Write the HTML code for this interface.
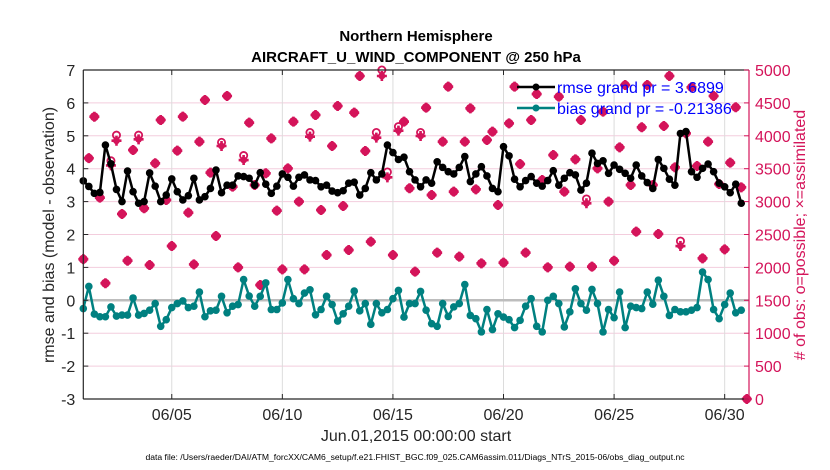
<!DOCTYPE html>
<html><head><meta charset="utf-8">
<style>
html,body{margin:0;padding:0;background:#fff;}
svg{display:block;font-family:"Liberation Sans",Arial,sans-serif;}
</style></head>
<body>
<svg id="chart" width="830" height="470" viewBox="0 0 830 470" xmlns="http://www.w3.org/2000/svg">
  <rect x="0" y="0" width="830" height="470" fill="#fff"/>
  <text x="416" y="41" text-anchor="middle" font-size="15" font-weight="bold" fill="#000">Northern Hemisphere</text>
  <text x="416" y="62" text-anchor="middle" font-size="15" font-weight="bold" fill="#000">AIRCRAFT_U_WIND_COMPONENT @ 250 hPa</text>
  <g id="grid"></g>
  <g id="marks"></g>
  <g id="axes"></g>
  <g id="legend">
    <line x1="517" y1="87" x2="555" y2="87" stroke="#000" stroke-width="2.5"/>
    <circle cx="536" cy="87" r="3.5" fill="#000"/>
    <text x="557" y="93" font-size="16" fill="#0000ff">rmse grand pr = 3.6899</text>
    <line x1="517" y1="108" x2="555" y2="108" stroke="#008080" stroke-width="2.5"/>
    <circle cx="536" cy="108" r="3.5" fill="#008080"/>
    <text x="557" y="114" font-size="16" fill="#0000ff">bias grand pr = -0.21386</text>
  </g>
  <text transform="translate(54,235) rotate(-90)" text-anchor="middle" font-size="16" fill="#262626">rmse and bias (model - observation)</text>
  <text transform="translate(805,235) rotate(-90)" text-anchor="middle" font-size="16" fill="#d4145a"># of obs: o=possible; ×=assimilated</text>
  <text x="416" y="441" text-anchor="middle" font-size="16" fill="#262626">Jun.01,2015 00:00:00 start</text>
  <text x="415" y="460" text-anchor="middle" font-size="8.6" fill="#000">data file: /Users/raeder/DAI/ATM_forcXX/CAM6_setup/f.e21.FHIST_BGC.f09_025.CAM6assim.011/Diags_NTrS_2015-06/obs_diag_output.nc</text>
</svg>
<script>
const leftTicks = [-3,-2,-1,0,1,2,3,4,5,6,7];
const rightTicks = [0,500,1000,1500,2000,2500,3000,3500,4000,4500,5000];
const dateTickDays = [4,9,14,19,24,29];
const dateTickLabels = ["06/05","06/10","06/15","06/20","06/25","06/30"];
const rmse = [3.63,3.46,3.25,3.28,4.72,4.15,3.37,3.0,3.93,3.3,2.95,3.0,3.87,3.47,3.0,3.2,3.69,3.3,3.05,3.18,
3.71,3.05,3.15,3.4,3.96,3.27,3.5,3.5,3.78,3.76,3.71,3.5,3.88,3.53,3.25,3.47,3.84,3.74,3.47,3.74,
3.81,3.66,3.64,3.45,3.5,3.32,3.27,3.33,3.56,3.59,3.2,3.4,3.88,3.66,3.84,4.72,4.49,4.28,4.35,3.91,
3.66,3.45,3.66,3.56,4.21,4.04,3.91,3.84,4.04,4.37,3.61,3.84,4.06,3.78,3.4,3.3,4.67,4.39,3.68,3.45,
3.64,3.76,3.56,3.47,3.64,3.94,3.5,3.71,3.88,3.81,3.35,3.56,4.47,4.16,4.24,3.86,4.11,3.98,3.86,3.71,
4.11,3.78,3.58,3.4,4.28,4.01,3.68,3.5,5.07,5.13,3.91,3.74,4.01,4.14,3.91,3.56,3.45,3.27,3.53,2.95];
const bias = [-0.25,0.42,-0.42,-0.5,-0.5,-0.2,-0.48,-0.45,-0.45,0.07,-0.45,-0.4,-0.3,-0.1,-0.79,-0.59,-0.22,-0.1,-0.02,-0.22,
-0.18,0.25,-0.5,-0.32,-0.3,0.12,-0.38,-0.18,-0.13,0.63,0.13,-0.18,0.12,0.53,-0.28,-0.28,-0.08,0.63,0.05,-0.1,
0.22,0.32,-0.44,-0.28,0.12,-0.13,-0.63,-0.41,-0.18,0.28,-0.32,-0.1,-0.73,-0.1,-0.38,-0.28,0.05,0.3,-0.51,-0.1,
-0.1,0.27,-0.3,-0.71,-0.79,-0.1,-0.49,-0.2,-0.1,0.48,-0.46,-0.56,-0.96,-0.28,-0.89,-0.41,-0.51,-0.59,-0.83,-0.61,
-0.18,0.05,-0.79,-0.96,0.0,0.12,-0.1,-0.81,-0.35,0.35,-0.1,-0.3,0.33,-0.1,-0.96,-0.28,-0.53,0.25,-0.83,-0.18,
-0.22,-0.25,0.25,-0.12,0.61,0.12,-0.46,-0.28,-0.35,-0.35,-0.3,-0.22,0.86,0.63,-0.28,-0.56,-0.13,0.22,-0.38,-0.3];
const obsAssim = [2125,3660,4290,3060,1760,3550,3925,2812,2102,3784,3946,2898,2036,3582,4240,3024,2325,3774,4291,2832,
2046,3911,4544,3440,2477,3845,4605,3227,2000,3632,4200,3252,1732,3430,3960,2862,1970,3505,4215,3000,
1970,3987,4316,2872,2188,3845,4453,2933,2264,4352,4909,3769,2391,3972,4909,3369,2188,4078,4215,3202,
1935,3997,4428,3100,2224,3911,4747,3151,2163,3911,4417,3186,2062,3936,4063,2948,2072,4189,4747,3571,
2224,4240,4635,3328,2001,3708,4595,3151,2011,3642,4240,2974,2011,3505,4368,3000,2102,3825,4772,3252,
2543,4129,4772,3252,2508,4149,4909,3521,2325,4037,4737,3541,2138,3911,4605,3267,2274,3592,4433,3217,0];
const obsPossible = [2125,3660,4290,3060,1760,3620,4010,2812,2102,3784,4010,2898,2036,3582,4240,3024,2325,3774,4291,2832,
2046,3911,4544,3440,2477,3900,4605,3227,2000,3700,4200,3252,1732,3430,3960,2862,1970,3505,4215,3000,
1970,4050,4316,2872,2188,3845,4453,2933,2264,4352,4909,3769,2391,4050,5000,3450,2188,4140,4215,3202,
1935,4050,4428,3100,2224,3911,4747,3151,2163,3911,4417,3186,2062,3936,4063,2948,2072,4189,4747,3571,
2224,4240,4635,3328,2001,3708,4595,3151,2011,3642,4240,3040,2011,3505,4368,3000,2102,3825,4772,3252,
2543,4129,4772,3252,2508,4149,4909,3521,2400,4037,4737,3541,2138,3911,4605,3267,2274,3592,4433,3217,0];

const NS='http://www.w3.org/2000/svg';
const X0=83.3, X1=749, TOP=70, BOT=399, DAYS=30.1;
const xDay = d => X0 + d*(X1-X0)/DAYS;
const xIdx = i => xDay(i*0.25);
const yL = v => BOT - (v+3)*(BOT-TOP)/10;
const yR = c => BOT - c*(BOT-TOP)/5000;
function mk(tag, attrs, parent){const e=document.createElementNS(NS,tag);for(const k in attrs)e.setAttribute(k,attrs[k]);parent.appendChild(e);return e;}
const grid=document.getElementById('grid'), marks=document.getElementById('marks'), axes=document.getElementById('axes');

rightTicks.forEach(c=>{const l=mk('line',{x1:X0,x2:X1,y1:yR(c),y2:yR(c),stroke:'#f3cddd','stroke-width':1},grid);

});
dateTickDays.forEach(d=>{const l=mk('line',{x1:xDay(d),x2:xDay(d),y1:TOP,y2:BOT,stroke:'#dcdcdc','stroke-width':1},grid);

});
const z=mk('line',{x1:X0,x2:X1,y1:yL(0),y2:yL(0),stroke:'#bdbdbd','stroke-width':2.5},grid);



obsAssim.forEach((c,i)=>{
  const x=xIdx(i), yp=yR(obsPossible[i]), ya=yR(c);
  const g=mk('g',{},marks);
  
  
  mk('circle',{cx:x,cy:yp,r:3.6,fill:'none',stroke:'#d4145a','stroke-width':1.8},g);
  mk('path',{d:`M${x-5},${ya}H${x+5}M${x},${ya-5}V${ya+5}`,stroke:'#d4145a','stroke-width':2.6},g);
  mk('circle',{cx:x,cy:ya,r:3.4,fill:'#d4145a'},g);
});
function series(vals,color,name){
  const pts=vals.map((v,i)=>xIdx(i).toFixed(1)+','+yL(v).toFixed(1)).join(' ');
  const pl=mk('polyline',{points:pts,fill:'none',stroke:color,'stroke-width':2.5,'stroke-linejoin':'round'},marks);
  
  
  vals.forEach((v,i)=>{const c=mk('circle',{cx:xIdx(i),cy:yL(v),r:3.8,fill:color},marks);
  
  });
}
series(bias,'#008080','bias');
series(rmse,'#000000','rmse');

mk('path',{d:`M${X0},${TOP}H${X1}M${X0},${BOT}H${X1}M${X0},${TOP}V${BOT}`,stroke:'#262626','stroke-width':1.2,fill:'none'},axes);
mk('line',{x1:X1,x2:X1,y1:TOP,y2:BOT,stroke:'#d4145a','stroke-width':1.2},axes);
leftTicks.forEach(v=>{
  mk('line',{x1:X0,x2:X0+5,y1:yL(v),y2:yL(v),stroke:'#262626'},axes);
  const t=mk('text',{x:X0-8,y:yL(v)+6,'text-anchor':'end','font-size':16,fill:'#262626'},axes);
  t.textContent=String(v);
  
  
});
rightTicks.forEach(c=>{
  mk('line',{x1:X1-5,x2:X1,y1:yR(c),y2:yR(c),stroke:'#d4145a'},axes);
  const t=mk('text',{x:X1+6,y:yR(c)+6,'font-size':16,fill:'#d4145a'},axes);
  t.textContent=String(c);
  
  
});
dateTickDays.forEach((d,k)=>{
  mk('line',{x1:xDay(d),x2:xDay(d),y1:BOT-5,y2:BOT,stroke:'#262626'},axes);
  mk('line',{x1:xDay(d),x2:xDay(d),y1:TOP,y2:TOP+5,stroke:'#262626'},axes);
  const t=mk('text',{x:xDay(d),y:420,'text-anchor':'middle','font-size':16,fill:'#262626'},axes);
  t.textContent=dateTickLabels[k];
  
  
});
</script>
</body></html>
